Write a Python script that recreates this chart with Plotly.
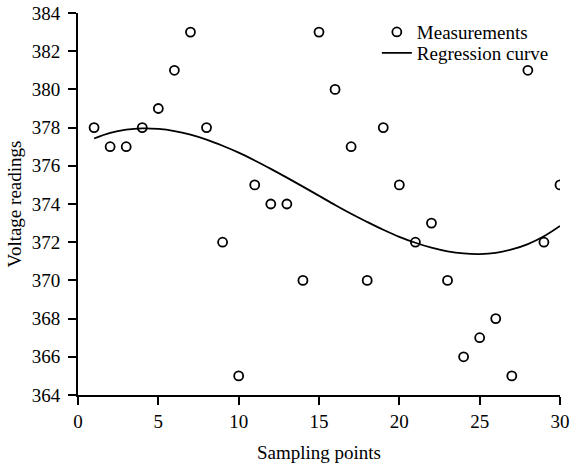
import plotly.graph_objects as go

sample_x = list(range(1, 31))
measurements = [378, 377, 377, 378, 379, 381, 383, 378, 372, 365,
                375, 374, 374, 370, 383, 380, 377, 370, 378, 375,
                372, 373, 370, 366, 367, 368, 365, 381, 372, 375]
curve_x = list(range(1, 31))
curve_y = [377.43, 377.72, 377.89, 377.96, 377.93, 377.82, 377.63, 377.37, 377.05, 376.69,
           376.28, 375.84, 375.38, 374.91, 374.43, 373.95, 373.49, 373.06, 372.65, 372.28,
           371.97, 371.71, 371.52, 371.41, 371.38, 371.44, 371.62, 371.90, 372.31, 372.85]

font = dict(family="Liberation Serif, Times New Roman, serif", size=19, color="black")

fig = go.Figure()
fig.add_trace(go.Scatter(
    x=sample_x, y=measurements, mode="markers", name="Measurements", legend="legend",
    marker=dict(symbol="circle-open", size=9, color="black", line=dict(width=1.8, color="black")),
))
fig.add_trace(go.Scatter(
    x=curve_x, y=curve_y, mode="lines", name="Regression curve", legend="legend2",
    line=dict(color="black", width=1.8, shape="spline"),
))

leg_common = dict(x=0.62, xanchor="left", yanchor="middle",
                  bgcolor="rgba(0,0,0,0)", font=font, itemwidth=30)

fig.update_layout(
    width=571, height=468,
    margin=dict(l=78, r=11, t=13, b=73),
    paper_bgcolor="white", plot_bgcolor="white",
    font=font,
    showlegend=True,
    legend=dict(y=0.950, **leg_common),
    legend2=dict(y=0.895, **leg_common),
    xaxis=dict(range=[0, 30], tickvals=[0, 5, 10, 15, 20, 25, 30],
               showgrid=False, zeroline=False, showline=True, linecolor="black", linewidth=2,
               ticks="outside", ticklen=8, tickwidth=2, tickcolor="black", automargin=False,
               title=dict(text="Sampling points", font=font, standoff=15),
               tickfont=font),
    yaxis=dict(range=[364, 384], tickvals=list(range(364, 385, 2)),
               showgrid=False, zeroline=False, showline=True, linecolor="black", linewidth=2,
               ticks="outside", ticklen=8, tickwidth=2, tickcolor="black", automargin=False,
               ticklabelstandoff=4,
               title=dict(text="Voltage readings", font=font, standoff=5),
               tickfont=font),
)

fig.write_html("out.html", config={"displayModeBar": False},
               post_script="document.body.style.margin='0';")
